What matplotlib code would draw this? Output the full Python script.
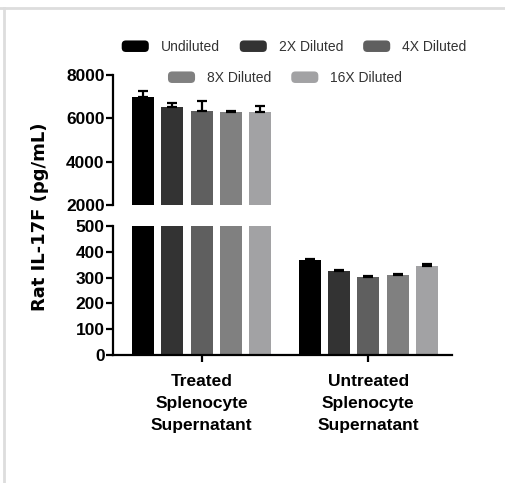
import matplotlib
matplotlib.use("Agg")
import matplotlib.pyplot as plt
from matplotlib.patches import Patch, FancyBboxPatch
from matplotlib.legend_handler import HandlerPatch
from matplotlib.lines import Line2D
import numpy as np

groups = ["Treated\nSplenocyte\nSupernatant", "Untreated\nSplenocyte\nSupernatant"]
series = ["Undiluted", "2X Diluted", "4X Diluted", "8X Diluted", "16X Diluted"]
colors = ["#000000", "#333333", "#5f5f5f", "#808080", "#a2a2a4"]

# values (pg/mL), one list per group
treated = [7000, 6540, 6350, 6310, 6290]
treated_err = [270, 150, 470, 25, 300]
untreated = [368, 327, 301, 310, 346]
untreated_err = [4, 4, 5, 5, 6]

W, H = 505, 483
fig = plt.figure(figsize=(W / 100, H / 100), dpi=100)

tick_font = dict(family="Liberation Sans", weight="bold", size=12.5)

gap = 5.67
centers = np.array([2.0, 2.0 + gap])
offs = np.arange(5) - 2

x0, x1 = 113, 452
ax_top = fig.add_axes([x0 / W, 1 - 205 / H, (x1 - x0) / W, 130 / H])
ax_bot = fig.add_axes([x0 / W, 1 - 355 / H, (x1 - x0) / W, 129 / H])

vals = [treated, untreated]
errs = [treated_err, untreated_err]
for ax in (ax_top, ax_bot):
    for i in range(5):
        xs = centers + offs[i]
        ys = [vals[0][i], vals[1][i]]
        es = [errs[0][i], errs[1][i]]
        ax.bar(xs, ys, width=0.75, color=colors[i], zorder=2)
        ax.errorbar(xs, ys, yerr=[[0, 0], es], fmt="none", ecolor="black",
                    elinewidth=1.6, capsize=3.8, capthick=1.6, zorder=3)
    ax.set_xlim(-1.02, 10.52)
    for s in ("top", "right"):
        ax.spines[s].set_visible(False)
    ax.spines["left"].set_linewidth(1.6)
    ax.tick_params(axis="y", direction="out", length=5, width=1.6, pad=1)

ax_top.set_ylim(2000, 8000)
ax_top.set_yticks([2000, 4000, 6000, 8000])
ax_top.spines["bottom"].set_visible(False)
ax_top.set_xticks([])

ax_bot.set_ylim(0, 500)
ax_bot.set_yticks(range(0, 501, 100))
ax_bot.spines["bottom"].set_linewidth(1.6)
ax_bot.set_xticks(centers)
ax_bot.set_xticklabels(groups, linespacing=1.55, **tick_font)
ax_bot.tick_params(axis="x", direction="out", length=5, width=1.6, pad=9)

for ax in (ax_top, ax_bot):
    for lab in ax.get_yticklabels():
        lab.set_fontproperties(matplotlib.font_manager.FontProperties(**tick_font))

fig.text(40 / W, 1 - 217 / H, "Rat IL-17F (pg/mL)", rotation=90,
         ha="center", va="center", family="DejaVu Sans", weight="bold", size=13)


def rounded(legend, orig_handle, xdescent, ydescent, width, height, fontsize):
    return FancyBboxPatch((-xdescent, -ydescent), width, height,
                          boxstyle="round,pad=0,rounding_size=3")


handles = [Patch(facecolor=c, edgecolor="none") for c in colors]
leg_kw = dict(frameon=False, handlelength=1.95, handleheight=0.9,
              handletextpad=0.85, columnspacing=1.45, borderpad=0,
              loc="center", prop={"family": "Liberation Sans", "size": 10},
              labelcolor="#333333",
              handler_map={Patch: HandlerPatch(patch_func=rounded)})
fig.legend(handles[:3], series[:3], ncol=3, bbox_to_anchor=(294 / W, 1 - 47 / H), **leg_kw)
fig.legend(handles[3:], series[3:], ncol=2, bbox_to_anchor=(285 / W, 1 - 78 / H), **leg_kw)

# light frame lines at top and left of the picture
fig.add_artist(Line2D([0, 1], [1 - 8 / H, 1 - 8 / H], color="#dddddd", lw=2,
                      transform=fig.transFigure))
fig.add_artist(Line2D([3.5 / W, 3.5 / W], [0, 1 - 8 / H], color="#dddddd", lw=2,
                      transform=fig.transFigure))

fig.savefig("out.png", dpi=100)
